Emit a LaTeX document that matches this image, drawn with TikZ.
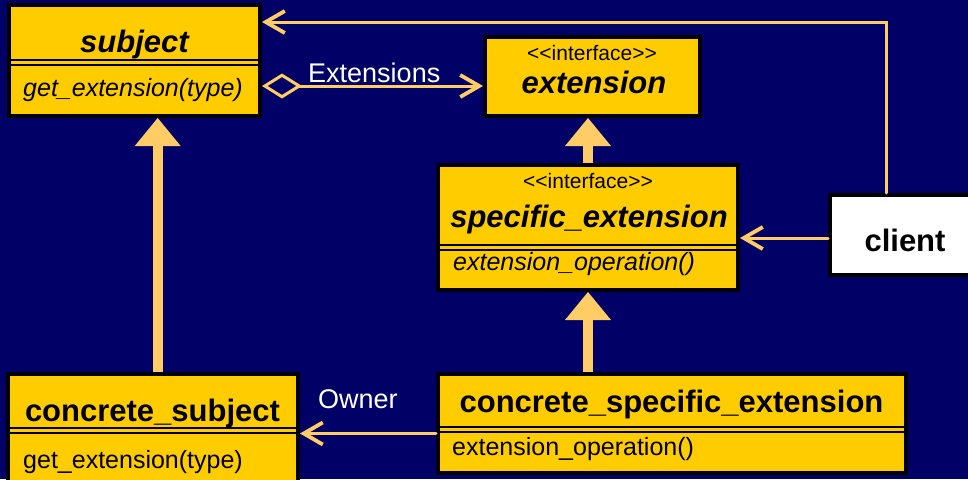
\documentclass[tikz,border=0pt]{standalone}
\usepackage{fontspec}
\setmainfont{Liberation Sans}
\usetikzlibrary{arrows.meta}
\definecolor{navy}{RGB}{0,0,102}
\definecolor{classfill}{RGB}{255,204,0}
\definecolor{wire}{RGB}{255,204,102}
% stereotype brackets kept as two separate characters
\newcommand{\stereotype}[1]{<\kern0pt<#1>\kern0pt>}

\begin{document}
\begin{tikzpicture}[x=1pt,y=-1pt,
  classbox/.style={draw=black, line width=4pt, fill=classfill, inner sep=0pt},
  clientbox/.style={classbox, fill=white},
  divider/.style={draw=black, line width=2pt},
  txt/.style={inner sep=0pt, anchor=base, text=black},
  title/.style={txt, font=\fontsize{31}{31}\selectfont\bfseries},
  ititle/.style={txt, font=\fontsize{31}{31}\selectfont\bfseries\itshape},
  stereo/.style={txt, font=\fontsize{21}{21}\selectfont},
  op/.style={txt, anchor=base west, font=\fontsize{25}{25}\selectfont},
  iop/.style={txt, anchor=base west, font=\fontsize{25}{25}\selectfont\itshape},
  rolelabel/.style={inner sep=0pt, anchor=base west, text=white, font=\fontsize{27}{27}\selectfont},
  barb/.tip={Straight Barb[length=19pt,width=22pt,line width=3.8pt]},
  assoc/.style={draw=wire, line width=3pt, line cap=round, -barb},
  aggr/.style={draw=wire, line width=3pt, line cap=round,
    {Diamond[open,length=40pt,width=25pt,line width=3pt]}-barb},
  inherit/.style={draw=wire, line width=10pt,
    -{Triangle[length=28pt,width=46pt,line width=0pt]}}
]
% canvas
\useasboundingbox (0,0) rectangle (968,479);
\clip (0,0) rectangle (968,479);
\fill[navy] (0,0) rectangle (968,479);

% class boxes
\node[classbox, minimum width=251pt, minimum height=111pt] (subject) at (134.5,60.5) {};
\node[classbox, minimum width=215pt, minimum height=79pt] (extension) at (592.5,76.5) {};
\node[classbox, minimum width=300pt, minimum height=125pt] (specific) at (588,227.5) {};
\node[clientbox, minimum width=150pt, minimum height=80pt] (client) at (905,235) {};
\node[classbox, minimum width=290pt, minimum height=116pt] (csubject) at (153,432) {};
\node[classbox, minimum width=468pt, minimum height=99pt] (cspec) at (672,423.5) {};

% compartment separators
\foreach \b/\ya/\yb in {subject/60/64.5, specific/245/249.5, csubject/428/432.5, cspec/427/431.5}{
  \draw[divider] (\b.west |- 0,\ya) -- (\b.east |- 0,\ya);
  \draw[divider] (\b.west |- 0,\yb) -- (\b.east |- 0,\yb);
}

% class texts
\node[ititle] at (134.5,52) {subject};
\node[iop] at (23,96) {get\_extension(type)};

\node[stereo] at (592,60) {\stereotype{interface}};
\node[ititle] at (594,93) {extension};

\node[stereo] at (588,188) {\stereotype{interface}};
\node[ititle] at (589,227) {specific\_extension};
\node[iop] at (453,270) {extension\_operation()};

\node[title] at (905,251) {client};

\node[title] at (152.5,421) {concrete\_subject};
\node[op] at (23,468) {get\_extension(type)};

\node[title] at (671.5,412) {concrete\_specific\_extension};
\node[op] at (452,455) {extension\_operation()};

% generalisations
\draw[inherit] ([xshift=4.7pt]csubject.north) -- ([xshift=4.7pt]csubject.north |- subject.south);
\draw[inherit] (specific.north) -- (specific.north |- extension.south);
\draw[inherit] (cspec.north -| specific.south) -- (specific.south);

% associations
\draw[assoc] ([xshift=58pt]client.north west) |- ([yshift=-19pt]subject.north east);
\draw[aggr] ([yshift=-25.5pt]subject.east) -- ([yshift=-25.5pt]subject.east -| extension.west);
\draw[assoc] ([yshift=-3pt]client.west) -- ([yshift=-3pt]client.west -| specific.east);
\draw[assoc] ([yshift=-10pt]cspec.west) -- ([yshift=-10pt]cspec.west -| csubject.east);

% role names
\node[rolelabel] at (308,82) {Extensions};
\node[rolelabel] at (318,408) {Owner};
\end{tikzpicture}
\end{document}
